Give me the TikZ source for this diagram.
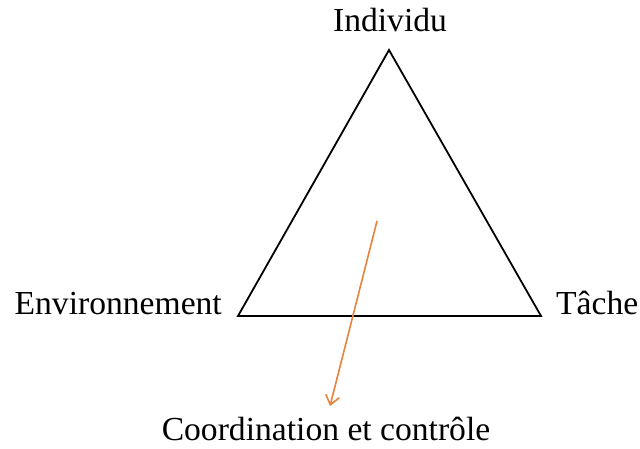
\documentclass[tikz,border=0pt]{standalone}
\usepackage{fontspec}
\setmainfont{Liberation Serif}
\usetikzlibrary{arrows.meta}
\definecolor{arroworange}{RGB}{232,130,60}
\begin{document}
\begin{tikzpicture}[x=1pt,y=-1pt,
  lbl/.style={inner sep=0pt,font=\fontsize{33.6}{36}\selectfont},
  tri/.style={draw=black,line width=1.8pt,line join=miter},
  arr/.style={draw=arroworange,line width=1.6pt,-{Straight Barb[length=9pt,width=14pt,line width=1.6pt]}}]
\useasboundingbox[fill=white] (0,0) rectangle (640,448);
\coordinate (top) at (389,50);
\coordinate (bl) at (238,316);
\coordinate (br) at (541,316);
\draw[tri] (top) -- (bl) -- (br) -- cycle;
\node[lbl,anchor=base] (ind) at (390,31) {Individu};
\node[lbl,anchor=base east] (env) at (222,314) {Environnement};
\node[lbl,anchor=base west] (tac) at (556,314) {Tâche};
\node[lbl,anchor=base] (coord) at (326,440) {Coordination et contrôle};
\coordinate (s) at (377,221);
\coordinate (e) at (330,406);
\draw[arr] (s) -- (e);
\end{tikzpicture}
\end{document}
